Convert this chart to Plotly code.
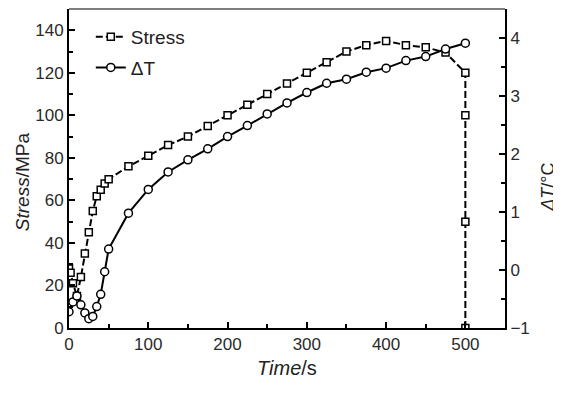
import plotly.graph_objects as go

# Stress series (left axis)
stress_time = [0, 2, 5, 10, 15, 20, 25, 30, 35, 40, 45, 50, 75, 100, 125, 150, 175, 200,
               225, 250, 275, 300, 325, 350, 375, 400, 425, 450, 475, 500, 500, 500, 500]
stress_mpa = [28, 26, 21, 15, 24, 35, 45, 55, 62, 65, 68, 70, 76, 81, 86, 90, 95, 100,
              105, 110, 115, 120, 125, 130, 133, 135, 133, 132, 129.5, 120, 100, 50, 0]

# Temperature change series (right axis)
dt_time = [0, 5, 10, 15, 20, 25, 30, 35, 40, 45, 50, 75, 100, 125, 150, 175, 200,
           225, 250, 275, 300, 325, 350, 375, 400, 425, 450, 475, 500]
dt_c = [-0.72, -0.55, -0.45, -0.6, -0.74, -0.84, -0.8, -0.63, -0.42, -0.03, 0.36, 0.98, 1.39,
        1.69, 1.9, 2.09, 2.3, 2.49, 2.69, 2.88, 3.06, 3.22, 3.29, 3.41, 3.48, 3.61, 3.68, 3.81, 3.91]

x_ticks = [0, 100, 200, 300, 400, 500]
y_ticks = [0, 20, 40, 60, 80, 100, 120, 140]
y2_ticks = [-1, 0, 1, 2, 3, 4]

FONT = "Liberation Sans, Arial, sans-serif"
TICKC = "#2a2a2a"
TITLEC = "#222"

fig = go.Figure()
fig.add_trace(go.Scatter(
    x=stress_time, y=stress_mpa, name="Stress", mode="lines+markers", legendgroup="a",
    line=dict(color="black", width=2, dash="7px,3px"),
    marker=dict(symbol="square", size=7, color="white", line=dict(color="black", width=1.5)),
    yaxis="y"))
fig.add_trace(go.Scatter(
    x=dt_time, y=dt_c, name="ΔT", mode="lines+markers", legendgroup="b",
    line=dict(color="black", width=2),
    marker=dict(symbol="circle", size=8, color="white", line=dict(color="black", width=1.5)),
    yaxis="y2"))

common = dict(ticks="inside", ticklen=6, tickwidth=2, tickcolor="black",
              showline=True, linecolor="black", linewidth=2,
              showgrid=False, zeroline=False, automargin=False,
              tickfont=dict(size=17, color=TICKC))

# the page body adds an 8px margin, so the figure is sized to fit the window after it
fig.update_layout(
    width=553, height=386,
    margin=dict(l=61, r=56, t=1, b=66),
    paper_bgcolor="white", plot_bgcolor="white",
    font=dict(family=FONT, size=17, color=TICKC),
    showlegend=True,
    legend=dict(x=0.05, y=0.972, xanchor="left", yanchor="top",
                font=dict(size=19, color=TITLEC), bgcolor="rgba(0,0,0,0)",
                tracegroupgap=3, itemwidth=30),
    xaxis=dict(range=[0, 550], tickvals=x_ticks,
               minor=dict(dtick=50, tick0=0, ticks="inside", ticklen=4, tickwidth=1.5,
                          tickcolor="black", showgrid=False),
               **common),
    yaxis=dict(range=[0, 150], tickvals=y_ticks,
               minor=dict(dtick=10, tick0=0, ticks="inside", ticklen=4, tickwidth=1.5,
                          tickcolor="black", showgrid=False),
               **common),
    yaxis2=dict(range=[-1, 4.5], tickvals=y2_ticks, overlaying="y", side="right",
                minor=dict(dtick=0.5, tick0=0, ticks="inside", ticklen=4, tickwidth=1.5,
                           tickcolor="black", showgrid=False),
                **common),
)
# axis titles
fig.add_annotation(text="<i>Time</i>/s", xref="paper", yref="paper", x=0.50, y=-0.125,
                   showarrow=False, xanchor="center", yanchor="middle",
                   font=dict(size=20, color=TITLEC))
fig.add_annotation(text="<i>Stress</i>/MPa", xref="paper", yref="paper", x=-0.108, y=0.46,
                   showarrow=False, textangle=-90, xanchor="center", yanchor="middle",
                   font=dict(size=19, color=TITLEC))
fig.add_annotation(text="<i>ΔT</i>/°C", xref="paper", yref="paper", x=1.098, y=0.442,
                   showarrow=False, textangle=-90, xanchor="center", yanchor="middle",
                   font=dict(size=18, color=TITLEC))
# top frame line
fig.add_shape(type="line", xref="paper", yref="paper", x0=0, x1=1, y0=1, y1=1,
              line=dict(color="#555", width=1.5))

fig.write_html("out.html")
